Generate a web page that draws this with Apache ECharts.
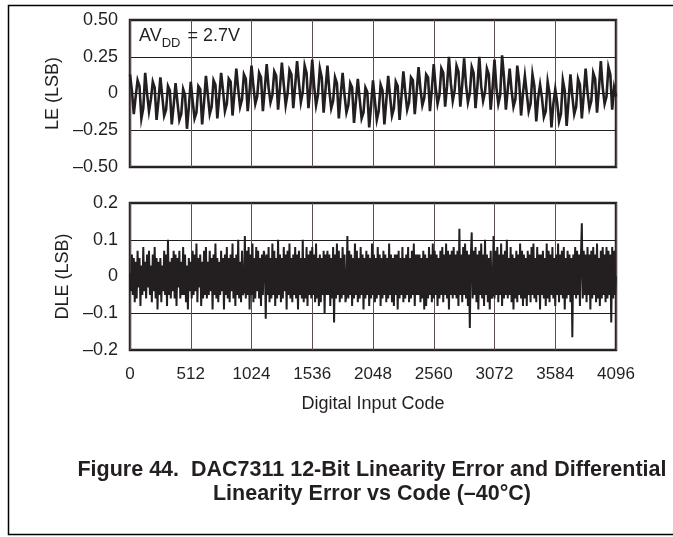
<!DOCTYPE html>
<html>
<head>
<meta charset="utf-8">
<script src="https://cdn.jsdelivr.net/npm/echarts@6/dist/echarts.min.js"></script>
<style>
html,body{margin:0;padding:0;background:#fff;overflow:hidden;}
#chart{width:673px;height:537px;}
</style>
</head>
<body>
<div id="chart"></div>
<script>
// ---- data ----
const xTickLabels = ['0','512','1024','1536','2048','2560','3072','3584','4096'];
const leTickLabels = ['\u20130.50','\u20130.25','0','0.25','0.50'];
const dleTickLabels = ['\u20130.2','\u20130.1','0','0.1','0.2'];
const leStep = 16;   // codes between LE samples
const dleStep = 8;   // codes between DLE samples

// Linearity error (LSB), one value every 16 codes
const leValues = [
0.13,0.02,-0.14,-0.02, 0.09,0.05,-0.17,-0.10, 0.14,0.00,-0.12,-0.04, 0.08,0.04,-0.18,-0.05,
0.11,-0.02,-0.15,-0.11, 0.05,0.02,-0.21,-0.08, 0.07,-0.06,-0.18,-0.14, 0.03,-0.01,-0.24,-0.09,
0.08,-0.05,-0.17,-0.13, 0.05,0.03,-0.21,-0.06, 0.12,-0.01,-0.14,-0.09, 0.09,0.06,-0.17,-0.02,
0.14,0.02,-0.12,-0.07, 0.10,0.08,-0.15,0.00, 0.17,0.03,-0.09,-0.04, 0.13,0.10,-0.12,0.02,
0.19,0.05,-0.07,-0.02, 0.14,0.11,-0.12,0.03, 0.20,0.04,-0.06,-0.01, 0.15,0.12,-0.11,0.04,
0.21,0.06,-0.08,0.00, 0.16,0.13,-0.10,0.05, 0.22,0.07,-0.06,0.01, 0.19,0.14,-0.10,0.04,
0.23,0.05,-0.08,-0.01, 0.17,0.11,-0.13,0.03, 0.19,0.02,-0.10,-0.05, 0.11,0.07,-0.17,-0.01,
0.14,-0.01,-0.13,-0.08, 0.07,0.04,-0.20,-0.05, 0.10,-0.04,-0.17,-0.13, 0.04,0.01,-0.23,-0.08,
0.09,-0.05,-0.18,-0.12, 0.06,0.02,-0.21,-0.05, 0.12,-0.02,-0.15,-0.10, 0.08,0.05,-0.18,-0.02,
0.15,0.01,-0.11,-0.06, 0.11,0.09,-0.14,0.01, 0.18,0.03,-0.08,-0.03, 0.13,0.11,-0.12,0.03,
0.20,0.04,-0.07,-0.01, 0.17,0.14,-0.09,0.05, 0.25,0.07,-0.05,0.02, 0.19,0.15,-0.09,0.06,
0.24,0.06,-0.06,0.00, 0.18,0.14,-0.10,0.05, 0.25,0.05,-0.05,0.01, 0.17,0.13,-0.11,0.04,
0.23,0.04,-0.07,-0.01, 0.26,0.11,-0.11,0.03, 0.17,0.02,-0.09,-0.04, 0.19,0.08,-0.15,0.00,
0.12,0.00,-0.12,-0.07, 0.13,0.05,-0.19,-0.03, 0.06,-0.03,-0.16,-0.12, 0.08,0.00,-0.23,-0.07,
0.03,-0.06,-0.19,-0.14, 0.09,0.02,-0.22,-0.05, 0.13,-0.02,-0.14,-0.09, 0.10,0.06,-0.17,-0.01,
0.17,0.01,-0.10,-0.05, 0.14,0.10,-0.13,0.03, 0.22,0.04,-0.07,-0.02, 0.18,0.13,-0.11,0.04,
-0.02
];

// Differential linearity error (LSB), one value every 8 codes
const dleValues = [
0.01,-0.04,0.06,-0.05,0.05,-0.07,0.04,-0.06,
0.07,-0.03,0.05,-0.08,0.03,-0.05,0.08,-0.04,
0.04,-0.06,0.06,-0.03,0.07,-0.05,0.03,-0.07,
0.06,-0.04,0.08,-0.06,0.05,-0.09,0.04,-0.05,
0.05,-0.07,0.03,-0.04,0.07,-0.05,0.06,-0.08,
0.10,-0.05,0.04,-0.06,0.05,-0.04,0.07,-0.06,
0.06,-0.08,0.05,-0.03,0.07,-0.06,0.04,-0.05,
0.08,-0.05,0.06,-0.07,0.03,-0.09,0.05,-0.04,
0.04,-0.06,0.07,-0.05,0.06,-0.04,0.09,-0.07,
0.05,-0.03,0.06,-0.08,0.04,-0.06,0.07,-0.05,
0.08,-0.06,0.04,-0.05,0.07,-0.04,0.05,-0.09,
0.06,-0.05,0.09,-0.06,0.05,-0.07,0.04,-0.05,
0.07,-0.04,0.05,-0.09,0.06,-0.05,0.08,-0.06,
0.05,-0.07,0.06,-0.04,0.09,-0.06,0.05,-0.08,
0.06,-0.05,0.10,-0.06,0.04,-0.07,0.07,-0.05,
-0.04,0.11,-0.06,0.07,-0.05,0.08,-0.09,0.06,
-0.05,0.09,-0.07,0.05,-0.06,0.08,-0.04,0.07,
-0.06,0.05,-0.08,0.06,-0.05,0.07,0.05,-0.115,
0.06,-0.05,0.08,-0.07,0.05,-0.06,0.09,-0.05,
0.07,-0.08,0.05,-0.06,0.10,-0.05,0.06,-0.07,
0.05,-0.06,0.08,-0.04,0.06,-0.09,0.07,-0.05,
0.09,-0.06,0.05,-0.07,0.06,-0.05,0.08,-0.06,
0.06,-0.09,0.07,-0.05,0.05,-0.06,0.10,-0.07,
0.05,-0.06,0.08,-0.08,0.06,-0.05,0.07,-0.06,
0.08,-0.05,0.06,-0.07,0.09,-0.06,0.05,-0.08,
0.06,-0.07,0.05,-0.05,0.07,-0.10,0.06,-0.05,
0.07,-0.05,0.06,-0.08,0.05,-0.06,0.08,-0.125,
0.06,-0.06,0.09,-0.05,0.07,-0.07,0.05,-0.06,
0.08,-0.05,0.06,-0.07,-0.05,0.11,-0.06,0.07,
-0.05,0.06,-0.08,0.05,-0.06,0.09,-0.05,0.07,
-0.07,0.05,-0.06,0.08,-0.05,0.06,-0.09,0.05,
-0.06,0.07,-0.05,0.06,-0.08,0.05,-0.06,0.09,
-0.05,0.06,-0.07,0.05,-0.06,0.08,-0.05,0.06,
-0.08,0.05,-0.06,0.07,-0.05,0.06,-0.07,0.05,
-0.06,0.09,-0.05,0.06,-0.07,0.05,-0.08,0.06,
-0.05,0.06,-0.09,0.07,-0.06,0.05,-0.05,0.08,
-0.07,0.05,-0.06,0.06,-0.05,0.08,-0.07,0.05,
-0.06,0.07,-0.05,0.09,-0.08,0.06,-0.05,0.06,
-0.05,0.06,-0.07,0.05,-0.06,0.07,-0.09,0.06,
-0.08,0.05,-0.06,0.08,-0.05,0.06,-0.07,0.09,
-0.06,0.07,-0.05,0.06,-0.08,0.05,-0.06,0.07,
-0.05,0.08,-0.07,0.06,-0.05,0.09,-0.06,0.07,
-0.09,0.06,-0.05,0.07,-0.06,0.08,-0.05,0.06,
-0.06,0.07,-0.08,0.13,-0.05,0.06,-0.07,0.08,
-0.05,0.09,-0.06,0.07,-0.08,0.06,-0.14,0.05,
0.12,-0.06,0.07,-0.05,0.08,-0.07,0.06,-0.09,
0.07,-0.05,0.09,-0.06,0.06,-0.08,0.10,-0.05,
0.06,-0.07,0.05,-0.09,0.07,-0.06,-0.05,0.11,
-0.06,0.07,-0.05,0.08,-0.07,0.06,-0.05,0.09,
-0.08,0.06,-0.06,0.07,-0.05,0.10,-0.06,0.05,
-0.05,0.08,-0.07,0.06,-0.09,0.05,-0.06,0.07,
-0.07,0.06,-0.05,0.09,-0.06,0.07,-0.08,0.06,
-0.06,0.05,-0.08,0.07,-0.05,0.06,-0.07,0.08,
-0.05,0.09,-0.06,0.05,-0.07,0.08,-0.05,0.06,
-0.09,0.06,-0.05,0.07,-0.06,0.05,-0.08,0.09,
-0.06,0.07,-0.07,0.06,-0.05,0.08,-0.06,0.05,
-0.08,0.06,-0.05,0.09,-0.07,0.06,-0.05,0.07,
-0.06,0.08,-0.09,0.05,-0.06,0.07,-0.05,0.06,
-0.07,0.05,-0.165,0.06,-0.05,0.08,-0.06,0.07,
-0.05,0.06,-0.08,0.05,0.145,-0.06,0.07,-0.05,
0.06,-0.07,0.08,-0.05,0.06,-0.09,0.07,-0.06,
0.08,-0.05,0.06,-0.07,0.09,-0.06,0.05,-0.08,
0.07,-0.06,0.08,-0.05,0.06,-0.07,0.08,-0.06,
0.07,-0.05,0.06,-0.125,0.08,-0.06,0.07,-0.05,
0.00
];

const INK = '#231f20';
const FONT = '"Liberation Sans", Arial, Helvetica, sans-serif';
const leTickValues = [-0.5,-0.25,0,0.25,0.5];
const dleTickValues = [-0.2,-0.1,0,0.1,0.2];
const xTickValues = [0,512,1024,1536,2048,2560,3072,3584,4096];

const leData = leValues.map((v,i)=>[i*leStep, v]);
const dleData = dleValues.map((v,i)=>[i*dleStep, v]);

function xAxis(gridIndex, showLabels){
  return {
    type:'value', gridIndex, min:0, max:4096, interval:512,
    axisLine:{show:false}, axisTick:{show:false},
    splitLine:{show:true, lineStyle:{color:'#5a4d55', width:1}},
    axisLabel:{show:showLabels, color:INK, fontFamily:FONT, fontSize:17, margin:16,
      formatter:(v)=>{const i=xTickValues.indexOf(v); return i>=0?xTickLabels[i]:'';}},
    name: showLabels ? 'Digital Input Code' : '',
    nameLocation:'middle', nameGap:45,
    nameTextStyle:{color:INK, fontFamily:FONT, fontSize:18}
  };
}
function yAxis(gridIndex, min, max, interval, vals, labels, name){
  return {
    type:'value', gridIndex, min, max, interval,
    axisLine:{show:false}, axisTick:{show:false},
    splitLine:{show:true, lineStyle:{color:INK, width:1}},
    axisLabel:{color:INK, fontFamily:FONT, fontSize:18, margin:12,
      formatter:(v)=>{let i=vals.findIndex(t=>Math.abs(t-v)<1e-9); return i>=0?labels[i]:'';}},
    name, nameLocation:'middle', nameGap:54,
    nameTextStyle:{color:INK, fontFamily:FONT, fontSize:18}
  };
}

const chart = echarts.init(document.getElementById('chart'), null, {renderer:'canvas'});
chart.setOption({
  animation:false,
  backgroundColor:'#ffffff',
  grid:[
    {left:130, top:20, width:486, height:147, show:true, borderColor:'#2a2627', borderWidth:2.5, backgroundColor:'transparent'},
    {left:130, top:203, width:486, height:147, show:true, borderColor:'#2a2627', borderWidth:2.5, backgroundColor:'transparent'}
  ],
  xAxis:[xAxis(0,false), xAxis(1,true)],
  yAxis:[
    yAxis(0,-0.5,0.5,0.25,leTickValues,leTickLabels,'LE (LSB)'),
    yAxis(1,-0.2,0.2,0.1,dleTickValues,dleTickLabels,'DLE (LSB)')
  ],
  series:[
    {type:'line', xAxisIndex:0, yAxisIndex:0, data:leData, showSymbol:false, symbol:'none',
      lineStyle:{color:INK, width:2.6, join:'miter'}, z:3},
    {type:'line', xAxisIndex:1, yAxisIndex:1, data:dleData, showSymbol:false, symbol:'none',
      lineStyle:{color:INK, width:2}, z:3}
  ],
  graphic:[
    {type:'polyline', silent:true, z:20,
      shape:{points:[[700,5.5],[8.5,5.5],[8.5,534.5],[700,534.5]]},
      style:{fill:'none', stroke:'#000', lineWidth:1.5}},
    {type:'text', left:139, top:27, z:10,
      style:{text:'{a|AV}{s|DD}{a| = 2.7V}', fontFamily:FONT,
        rich:{a:{fontSize:18, fontFamily:FONT, fill:INK, lineHeight:22, verticalAlign:'bottom'},
              s:{fontSize:13, fontFamily:FONT, fill:INK, lineHeight:22, verticalAlign:'bottom', padding:[0,2,-5,0]}}}},
    {type:'text', x:372, y:459, z:10,
      style:{text:'Figure 44.  DAC7311 12-Bit Linearity Error and Differential', textAlign:'center', fontFamily:FONT, fontSize:21.5, fontWeight:'bold', fill:INK}},
    {type:'text', x:372, y:483, z:10,
      style:{text:'Linearity Error vs Code (\u201340\u00b0C)', textAlign:'center', fontFamily:FONT, fontSize:21.5, fontWeight:'bold', fill:INK}}
  ]
});
</script>
</body>
</html>
